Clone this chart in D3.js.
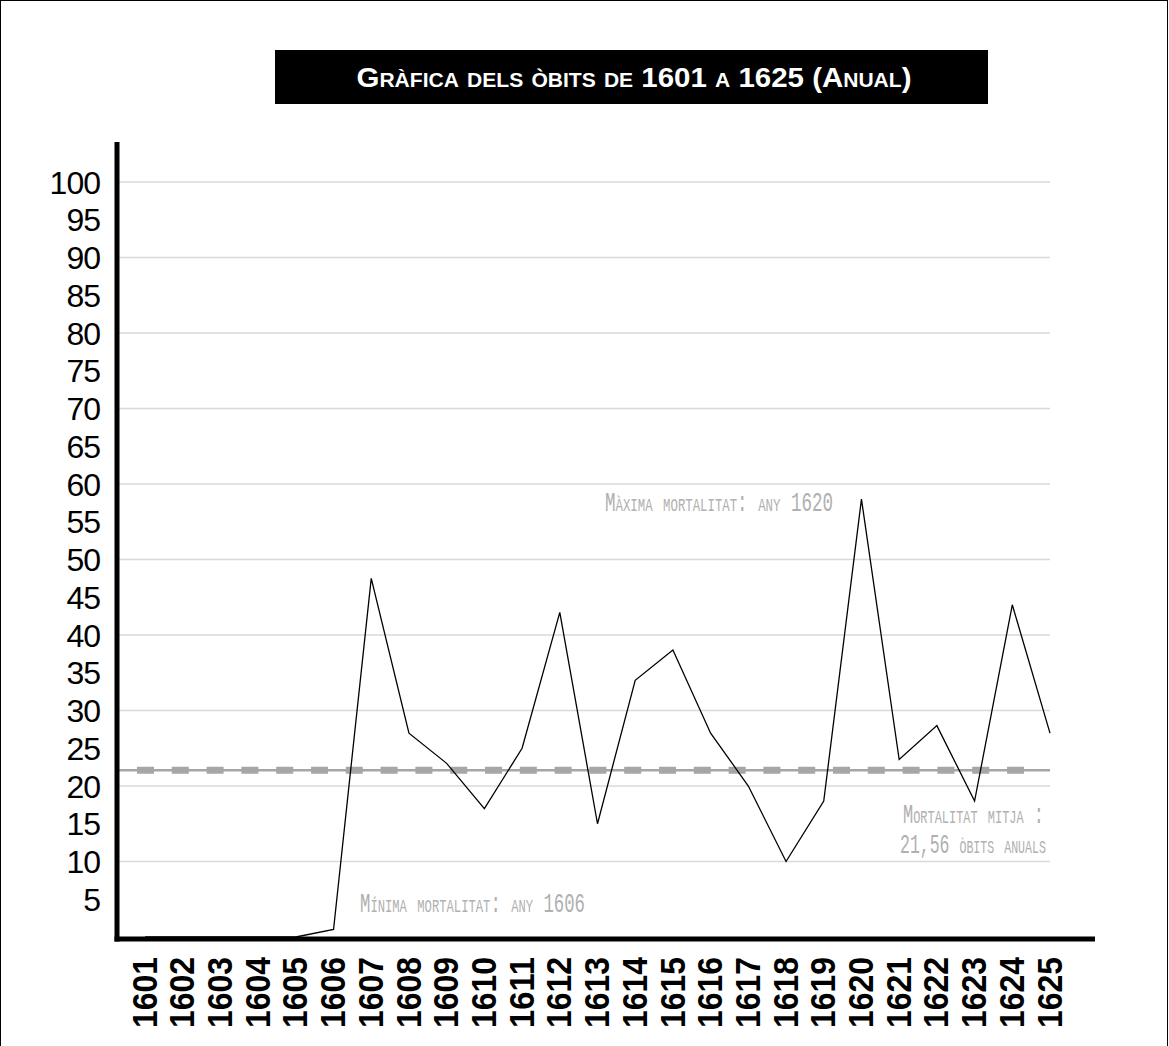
<!DOCTYPE html>
<html>
<head>
<meta charset="utf-8">
<script src="https://cdn.jsdelivr.net/npm/d3@7"></script>
<style>
  html, body { margin: 0; padding: 0; background: #fff; }
  svg { display: block; }
</style>
</head>
<body>
<svg id="chart" width="1169" height="1046"></svg>
<script>
// ---- DATA ----
const years = ["1601","1602","1603","1604","1605","1606","1607","1608","1609","1610","1611","1612","1613","1614","1615","1616","1617","1618","1619","1620","1621","1622","1623","1624","1625"];
const deaths = [0,0,0,0,0,1,47.5,27,23,17,25,43,15,34,38,27,20,10,18,58,23.5,28,18,44,27];
const meanValue = 22.1;
const yTickLabels = [5,10,15,20,25,30,35,40,45,50,55,60,65,70,75,80,85,90,95,100];
const gridValues = [10,20,30,40,50,60,70,80,90,100];
const titleText = "Gràfica dels òbits de 1601 a 1625 (Anual)";
const maxNote = "Màxima mortalitat: any 1620";
const minNote = "Mínima mortalitat: any 1606";
const meanNote1 = "Mortalitat mitja :";
const meanNote2 = "21,56 òbits anuals";

// ---- DRAW ----
const svg = d3.select("#chart");
const y = d3.scaleLinear().domain([0, 100]).range([937, 182]);
const x = d3.scalePoint().domain(years).range([145, 1050]);
const gridX0 = 119, gridX1 = 1050;

// outer frame
svg.append("rect").attr("x", 0.5).attr("y", 0.5).attr("width", 1167).attr("height", 1100)
  .attr("fill", "none").attr("stroke", "#000").attr("stroke-width", 1);

// title
svg.append("rect").attr("x", 275).attr("y", 50).attr("width", 713).attr("height", 54).attr("fill", "#000");
svg.append("text").attr("x", 634).attr("y", 87).attr("text-anchor", "middle")
  .attr("fill", "#fff").attr("font-family", "Liberation Sans, Arial, sans-serif")
  .attr("font-weight", "bold").attr("font-size", 28).style("font-variant", "small-caps")
  .attr("textLength", 555).attr("lengthAdjust", "spacingAndGlyphs")
  .text(titleText);

// gridlines
svg.append("g").selectAll("line").data(gridValues).join("line")
  .attr("x1", gridX0).attr("x2", gridX1)
  .attr("y1", d => y(d)).attr("y2", d => y(d))
  .attr("stroke", "#d9d9d9").attr("stroke-width", 1.5);

// y tick labels
svg.append("g").selectAll("text").data(yTickLabels).join("text")
  .attr("x", 100).attr("y", d => y(d)).attr("dy", "0.36em")
  .attr("text-anchor", "end")
  .attr("font-family", "Liberation Sans, Arial, sans-serif").attr("font-size", 32)
  .attr("letter-spacing", -1).attr("fill", "#000")
  .text(d => d);

// mean line: thin solid + thick dashes
svg.append("line").attr("x1", gridX0).attr("x2", gridX1)
  .attr("y1", y(meanValue)).attr("y2", y(meanValue))
  .attr("stroke", "#a6a6a6").attr("stroke-width", 2.5);
svg.append("line").attr("x1", 137).attr("x2", 1030)
  .attr("y1", y(meanValue)).attr("y2", y(meanValue))
  .attr("stroke", "#a6a6a6").attr("stroke-width", 7)
  .attr("stroke-dasharray", "17 17.8");

// data line
const line = d3.line().x((d, i) => x(years[i])).y(d => y(d));
svg.append("path").datum(deaths).attr("d", line)
  .attr("fill", "none").attr("stroke", "#000").attr("stroke-width", 1.3);

// axes
svg.append("line").attr("x1", 117).attr("x2", 117).attr("y1", 142).attr("y2", 941.5)
  .attr("stroke", "#000").attr("stroke-width", 5);
svg.append("line").attr("x1", 114.5).attr("x2", 1095).attr("y1", 939).attr("y2", 939)
  .attr("stroke", "#000").attr("stroke-width", 5);

// x labels
svg.append("g").selectAll("text").data(years).join("text")
  .attr("transform", d => `translate(${x(d) - 1},957) rotate(-90)`)
  .attr("dy", "0.36em").attr("text-anchor", "end")
  .attr("font-family", "Liberation Sans, Arial, sans-serif").attr("font-weight", "bold")
  .attr("font-size", 35).attr("textLength", 71).attr("lengthAdjust", "spacingAndGlyphs")
  .attr("fill", "#000")
  .text(d => d);

// annotations
function note(txt, xPos, yPos, anchor, len) {
  svg.append("text").attr("x", xPos).attr("y", yPos).attr("text-anchor", anchor)
    .attr("font-family", "Liberation Mono, Courier New, monospace").attr("font-size", 27)
    .style("font-variant", "small-caps").attr("fill", "#b0b0b0")
    .attr("textLength", len).attr("lengthAdjust", "spacingAndGlyphs")
    .text(txt);
}
note(maxNote, 605, 511, "start", 228);
note(minNote, 360, 912, "start", 225);
note(meanNote1, 1044, 823, "end", 141);
note(meanNote2, 1046, 853, "end", 146);
</script>
</body>
</html>
